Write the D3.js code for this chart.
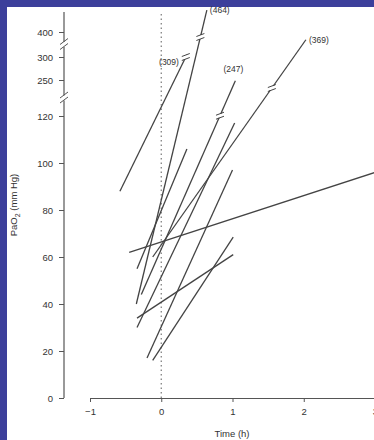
<!DOCTYPE html>
<html>
<head>
<meta charset="utf-8">
<script src="https://cdn.jsdelivr.net/npm/d3@7"></script>
<style>
  body { margin: 0; background: #fff; }
  text { font-family: "Liberation Sans", Arial, sans-serif; fill: #333; }
</style>
</head>
<body>
<div id="chart-area"></div>
<script>
// one segment per patient: start (time, PaO2) -> end (time, PaO2)
const startTime = [-0.58, -0.35, -0.28, -0.34, -0.12, -0.34, -0.20, -0.45, -0.12, -0.34]
const startPaO2 = [88, 40, 44, 30, 60, 55, 17, 62, 16, 34]
const endTime = [0.36, 0.64, 1.04, 1.03, 2.03, 0.36, 1.00, 3.0, 1.01, 1.01]
const endPaO2 = [309, 464, 247, 117, 369, 106, 97, 96, 68.5, 61]
// lines that go past the axis break, with the value where their break mark sits
const brokenLine = [0, 1, 2, 4]
const breakMarkAt = [300, 380, 121, 221]
const endLabels = ["(309)", "(464)", "(247)", "(369)"]

const yTicks = [0, 20, 40, 60, 80, 100, 120, 250, 300, 400]
const xTicks = [-1, 0, 1, 2, 3]
const axisBreaks = [185, 350]   // values where the y axis is broken

const svg = d3.select("#chart-area").append("svg")
    .attr("width", 374)
    .attr("height", 440)

// blue frame of the original figure
svg.append("rect").attr("x", 0).attr("y", 0).attr("width", 374).attr("height", 7).attr("fill", "#3c3f9b")
svg.append("rect").attr("x", 0).attr("y", 0).attr("width", 7).attr("height", 440).attr("fill", "#3c3f9b")

const x = d3.scaleLinear().domain([-1, 3]).range([90, 375])
const y = d3.scaleLinear()
    .domain([0, 120, 250, 300, 400, 470])
    .range([398, 116, 80, 57, 32, 8])

// dotted line at time 0
svg.append("line")
    .attr("x1", x(0)).attr("x2", x(0))
    .attr("y1", y(0)).attr("y2", 12)
    .attr("stroke", "#777")
    .attr("stroke-width", 1.2)
    .attr("stroke-dasharray", "1.5,3")

// x axis
const xAxis = svg.append("g")
    .attr("transform", `translate(0,${y(0)})`)
    .call(d3.axisBottom(x).tickValues(xTicks).tickSize(4).tickSizeOuter(0)
        .tickFormat(d => d < 0 ? "\u2212" + Math.abs(d) : d))
xAxis.select(".domain").attr("stroke", "#555").attr("stroke-width", 1.2)
xAxis.selectAll(".tick line").attr("stroke", "#555")
xAxis.selectAll(".tick text").attr("font-size", 9.5).attr("dy", "1.1em").attr("fill", "#333")

// y axis
const yAxis = svg.append("g")
    .attr("transform", "translate(64,0)")
    .call(d3.axisLeft(y).tickValues(yTicks).tickSize(5).tickSizeOuter(0))
yAxis.select(".domain").remove()
yAxis.append("line")
    .attr("x1", 0).attr("x2", 0)
    .attr("y1", y(0)).attr("y2", 12)
    .attr("stroke", "#555").attr("stroke-width", 1.2)
yAxis.selectAll(".tick line").attr("stroke", "#555")
yAxis.selectAll(".tick text").attr("font-size", 9.5).attr("x", -11).attr("fill", "#333")

// axis breaks
axisBreaks.forEach(v => {
    const yy = y(v)
    yAxis.append("rect").attr("x", -3).attr("y", yy - 2.5).attr("width", 6).attr("height", 5).attr("fill", "#fff")
    yAxis.append("line").attr("x1", -4).attr("y1", yy).attr("x2", 4).attr("y2", yy - 6)
        .attr("stroke", "#555").attr("stroke-width", 1)
    yAxis.append("line").attr("x1", -4).attr("y1", yy + 5).attr("x2", 4).attr("y2", yy - 1)
        .attr("stroke", "#555").attr("stroke-width", 1)
})

// patient lines
const lines = svg.append("g")
startTime.forEach((t, i) => {
    lines.append("line")
        .attr("x1", x(t)).attr("y1", y(startPaO2[i]))
        .attr("x2", x(endTime[i])).attr("y2", y(endPaO2[i]))
        .attr("stroke", "#444")
        .attr("stroke-width", 1.3)
})

// break marks and labels on the off-scale lines
brokenLine.forEach((i, k) => {
    const x1 = x(startTime[i]), y1 = y(startPaO2[i])
    const x2 = x(endTime[i]), y2 = y(endPaO2[i])
    const v = breakMarkAt[k]
    // point on the line at the break value (screen interpolation)
    const f = (y(v) - y1) / (y2 - y1)
    const px = x1 + f * (x2 - x1), py = y1 + f * (y2 - y1)
    const g = lines.append("g").attr("transform", `translate(${px},${py})`)
    g.append("rect").attr("x", -3).attr("y", -2).attr("width", 6).attr("height", 4).attr("fill", "#fff")
    g.append("line").attr("x1", -4).attr("y1", -0.5).attr("x2", 4).attr("y2", -3.5)
        .attr("stroke", "#444").attr("stroke-width", 1)
    g.append("line").attr("x1", -4).attr("y1", 3.5).attr("x2", 4).attr("y2", 0.5)
        .attr("stroke", "#444").attr("stroke-width", 1)

    const lab = lines.append("text")
        .attr("font-size", 8.5)
        .text(endLabels[k])
    if (k === 0) lab.attr("x", x2 - 8).attr("y", y2 + 10).attr("text-anchor", "end")
    else if (k === 2) lab.attr("x", x2 - 2).attr("y", y2 - 9).attr("text-anchor", "middle")
    else lab.attr("x", x2 + 3).attr("y", y2 + 3).attr("text-anchor", "start")
})

// axis titles
svg.append("text")
    .attr("x", 232).attr("y", 437)
    .attr("text-anchor", "middle")
    .attr("font-size", 9.5)
    .text("Time (h)")

const yt = svg.append("text")
    .attr("transform", "translate(17,205) rotate(-90)")
    .attr("text-anchor", "middle")
    .attr("font-size", 9.5)
yt.append("tspan").text("PaO")
yt.append("tspan").attr("font-size", 7).attr("dy", 2.5).text("2")
yt.append("tspan").attr("dy", -2.5).text(" (mm Hg)")
</script>
</body>
</html>
